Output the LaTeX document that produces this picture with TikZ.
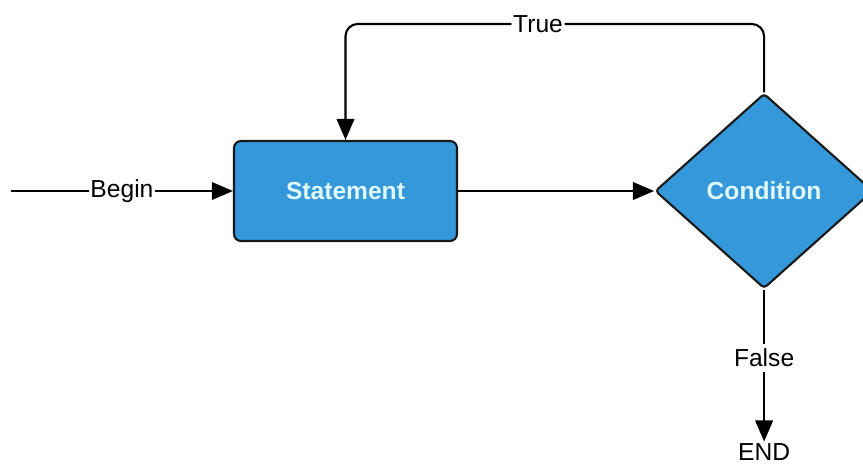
\documentclass[tikz,border=0pt]{standalone}
\usepackage{fontspec}
\setmainfont{Liberation Sans}
\usepackage{xcolor}
\usepackage{tikz}
\usetikzlibrary{positioning, shapes.geometric, arrows.meta}

\definecolor{boxblue}{RGB}{52,152,219}
\definecolor{boxtext}{RGB}{222,250,255}

\begin{document}
\begin{tikzpicture}[
    font=\fontsize{14}{17}\selectfont,
    block/.style={rectangle, draw=black!90, line width=1.2pt, rounded corners=4pt, fill=boxblue, text=boxtext, font=\fontsize{14}{17}\selectfont\bfseries, minimum width=4.46cm, minimum height=2cm},
    decision/.style={diamond, draw=black!90, line width=1.2pt, rounded corners=2pt, fill=boxblue, text=boxtext, font=\fontsize{14}{17}\selectfont\bfseries, minimum width=4.36cm, minimum height=3.9cm, inner sep=0pt},
    flow/.style={-{Triangle[length=12pt, width=10pt]}, line width=1.2pt},
    lbl/.style={fill=white, inner sep=1pt}
]
\useasboundingbox (0,0) rectangle (17.26,9.34);

% Main blocks
\node (statement) [block] at (6.91,5.52) {Statement};
\node (condition) [decision, right=3.92cm of statement] {Condition};

% Entry point and exit
\coordinate [left=4.44cm of statement] (start);
\node (finish) [below=3.04cm of condition, inner sep=1pt] {END};

% Forward flow
\draw [flow] (start) -- node[lbl] {Begin} (statement);
\draw [flow] (statement) -- (condition);

% Loop back when true
\draw [flow, rounded corners=7pt] (condition.north) -- ++(0,1.37) -| node[pos=0.27, lbl] {True} (statement.north);

% Exit when false
\draw [flow] (condition.south) -- node[pos=0.45, lbl, inner sep=3pt] {False} (finish);

\end{tikzpicture}
\end{document}
